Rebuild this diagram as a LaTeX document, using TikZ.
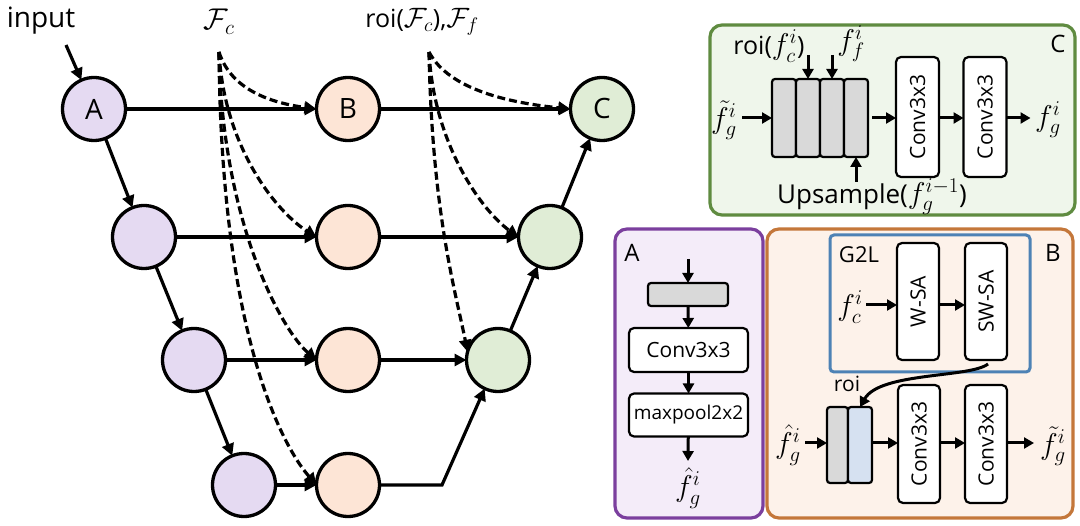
\RequirePackage{fix-cm}
\documentclass[tikz,border=0pt]{standalone}
\usepackage{fontspec}
\setmainfont{Open Sans}
\usetikzlibrary{arrows.meta}
\definecolor{purpc}{HTML}{E5DAF2}
\definecolor{orac}{HTML}{FDE5D6}
\definecolor{grnc}{HTML}{E0EDD6}
\definecolor{panAf}{HTML}{F4ECF9}
\definecolor{panAd}{HTML}{7B3F9E}
\definecolor{panBf}{HTML}{FDF2EA}
\definecolor{panBd}{HTML}{C4773A}
\definecolor{panCf}{HTML}{EFF6EB}
\definecolor{panCd}{HTML}{5F8B40}
\definecolor{g2ld}{HTML}{4D82B5}
\definecolor{greyb}{HTML}{D9D9D9}
\definecolor{blueb}{HTML}{D6E1F1}
\newcommand{\fs}[1]{\fontsize{#1}{#1}\selectfont}
\begin{document}
\begin{tikzpicture}[x=1pt,y=-1pt,
  every node/.style={inner sep=0pt,outer sep=0pt},
  circ/.style={circle,draw=black,line width=3.3pt,minimum size=63pt,font=\fs{28}},
  pur/.style={circ,fill=purpc},
  ora/.style={circ,fill=orac},
  grn/.style={circ,fill=grnc},
  arr/.style={line width=3.2pt,-{Triangle[length=12pt,width=12pt]}},
  dsh/.style={arr,dash pattern=on 8pt off 4pt},
  parr/.style={line width=3pt,-{Triangle[length=10pt,width=11pt]}},
  panel/.style={line width=3.2pt,rounded corners=12pt},
  gblk/.style={draw=black,line width=2.2pt,fill=greyb,rounded corners=3pt},
  bblk/.style={draw=black,line width=2.2pt,fill=blueb,rounded corners=3pt},
  wbox/.style={draw=black,line width=2.2pt,fill=white,rounded corners=5pt},
  vtxt/.style={wbox,font=\fs{21},text depth=0pt},
  lbl/.style={font=\fs{24}},
  mth/.style={font=\fs{30}}
]
\useasboundingbox (0,0) rectangle (1080,526);

% ---------- main graph ----------
\node[font=\fs{28}] (inptxt) at (41,21) {input};
\coordinate (inp) at (66,45);
\node[font=\fs{30}] (fclab) at (219,22) {$\mathcal{F}_c$};
\node[font=\fs{25}] (roilab) at (422,22) {roi(\fs{28}$\mathcal{F}_c$\fs{25}),\fs{28}$\mathcal{F}_f$};
\coordinate (fcs) at (219,52);
\coordinate (rois) at (429,52);

\node[pur] (A) at (94,109) {A};
\node[ora] (B) at (348,109) {B};
\node[grn] (C) at (602,109) {C};
\node[pur] (P2) at (144,237) {};
\node[ora] (O2) at (348,237) {};
\node[grn] (G2) at (550,237) {};
\node[pur] (P3) at (194,360) {};
\node[ora] (O3) at (348,360) {};
\node[grn] (G3) at (498,360) {};
\node[pur] (P4) at (244,485) {};
\node[ora] (O4) at (348,485) {};
\coordinate (bend) at (442,485);

\draw[arr] (inp) -- (A);
\draw[arr] (A) -- (P2);
\draw[arr] (P2) -- (P3);
\draw[arr] (P3) -- (P4);
\draw[arr] (A) -- (B);
\draw[arr] (P2) -- (O2);
\draw[arr] (P3) -- (O3);
\draw[arr] (P4) -- (O4);
\draw[arr] (B) -- (C);
\draw[arr] (O2) -- (G2);
\draw[arr] (O3) -- (G3);
\draw[arr] (O4.east) -- (bend) -- (G3.245);
\draw[arr] (G3) -- (G2);
\draw[arr] (G2) -- (C);

\draw[dsh] (fcs) .. controls +(12,38) and +(-45,-6) .. (B.west);
\draw[dsh] (fcs) .. controls +(5,95) and +(-40,-25) .. (O2.west);
\draw[dsh] (fcs) .. controls +(3,170) and +(-35,-30) .. (O3.west);
\draw[dsh] (fcs) .. controls +(2,280) and +(-35,-40) .. (O4.west);
\draw[dsh] (rois) .. controls +(20,38) and +(-60,-6) .. (C.west);
\draw[dsh] (rois) .. controls +(5,95) and +(-35,-25) .. (G2.west);
\draw[dsh] (rois) .. controls +(3,160) and +(-12,-60) .. (G3.165);

% ---------- panel C ----------
\draw[panel,draw=panCd,fill=panCf] (710,25) rectangle (1075,215);
\node[lbl] (Clab) at (1058,44) {C};
\node[gblk,minimum width=24pt,minimum height=78pt] (c1) at (784,118) {};
\node[gblk,minimum width=24pt,minimum height=78pt] (c2) at (808,118) {};
\node[gblk,minimum width=24pt,minimum height=78pt] (c3) at (832,118) {};
\node[gblk,minimum width=24pt,minimum height=78pt] (c4) at (856,118) {};
\node[mth] (ftin) at (724,120) {$\tilde{f}_g^i$};
\node[font=\fs{25}] (roic) at (769,46) {roi(\fs{30}$f_c^i$\fs{25})};
\node[mth] (ffc) at (851,44) {$f_f^i$};
\node[font=\fs{26}] (ups) at (872,197) {Upsample(\fs{30}$f_g^{i-1}$\fs{26})};
\node[vtxt,minimum width=43pt,minimum height=120pt] (cc1) at (917.5,117) {\rotatebox{90}{Conv3x3}};
\node[vtxt,minimum width=43pt,minimum height=120pt] (cc2) at (985,117) {\rotatebox{90}{Conv3x3}};
\node[mth] (fgout) at (1048,120) {$f_g^i$};
\coordinate (aroi) at (808,55);
\coordinate (aff) at (832,55);
\coordinate (aup) at (856,182);
\coordinate (ftine) at (742,118);
\coordinate (c4e) at (872,118);
\draw[parr] (aroi) -- (c2.north);
\draw[parr] (aff) -- (c3.north);
\draw[parr] (aup) -- (c4.south);
\draw[parr] (ftine) -- (c1.west |- ftine);
\draw[parr] (c4e) -- (cc1.west |- c4e);
\draw[parr] (cc1.east |- c4e) -- (cc2.west |- c4e);
\draw[parr] (cc2.east |- c4e) -- ++(24,0) coordinate (fgin);

% ---------- panel A ----------
\draw[panel,draw=panAd,fill=panAf] (615,229) rectangle (763,518);
\node[lbl] (Alab) at (632,253) {A};
\coordinate (atop) at (688,259);
\node[gblk,minimum width=80pt,minimum height=23pt] (ag) at (688,294.5) {};
\node[wbox,minimum width=119pt,minimum height=44pt,font=\fs{21}] (aconv) at (688.5,350) {Conv3x3};
\node[wbox,minimum width=119pt,minimum height=43pt,font=\fs{19}] (amax) at (688.5,415) {maxpool2x2};
\node[mth] (fhA) at (688,488) {$\hat{f}_g^i$};
\coordinate (abot) at (688,461);
\draw[parr] (atop) -- (ag.north);
\draw[parr] (ag) -- (aconv);
\draw[parr] (aconv) -- (amax);
\draw[parr] (amax) -- (abot);

% ---------- panel B ----------
\draw[panel,draw=panBd,fill=panBf] (767,229) rectangle (1073,518);
\node[lbl] (Blab) at (1053,253) {B};
\draw[line width=3pt,draw=g2ld,rounded corners=4pt] (830,235) rectangle (1030,372);
\node[font=\fs{22}] (g2l) at (859,255) {G2L};
\node[mth] (fcB) at (850,307) {$f_c^i$};
\node[vtxt,minimum width=42pt,minimum height=117pt] (wsa) at (918,301.5) {\rotatebox{90}{W-SA}};
\node[vtxt,minimum width=42pt,minimum height=117pt] (swsa) at (986,301.5) {\rotatebox{90}{SW-SA}};
\coordinate (fcBe) at (866,305);
\draw[parr] (fcBe) -- (wsa.west |- fcBe);
\draw[parr] (wsa.east |- fcBe) -- (swsa.west |- fcBe);
\node[gblk,minimum width=21pt,minimum height=76pt] (bg) at (837.5,445) {};
\node[bblk,minimum width=24pt,minimum height=76pt] (bb) at (860,445) {};
\node[vtxt,minimum width=42pt,minimum height=118pt] (bc1) at (919,444) {\rotatebox{90}{Conv3x3}};
\node[vtxt,minimum width=42pt,minimum height=118pt] (bc2) at (986,444) {\rotatebox{90}{Conv3x3}};
\node[mth] (fhB) at (788,445) {$\hat{f}_g^i$};
\node[mth] (ftB) at (1053,446) {$\tilde{f}_g^i$};
\coordinate (fhBe) at (805,443);
\draw[parr] (fhBe) -- (bg.west |- fhBe);
\draw[parr] (bb.east |- fhBe) -- (bc1.west |- fhBe);
\draw[parr] (bc1.east |- fhBe) -- (bc2.west |- fhBe);
\draw[parr] (bc2.east |- fhBe) -- ++(27,0) coordinate (ftBin);
\node[font=\fs{21}] (roiB) at (847,384) {roi};
\coordinate (swsab) at (988,364);
\draw[parr] (swsab) .. controls (970,378) and (880,372) .. (bb.north);
\end{tikzpicture}
\end{document}
